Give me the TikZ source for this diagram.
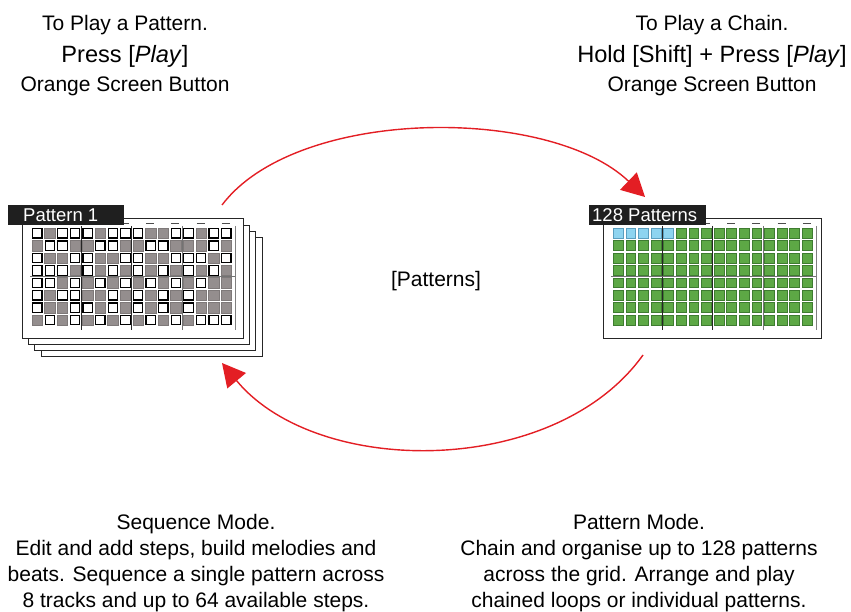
\documentclass[tikz,border=0pt]{standalone}
\usepackage{fontspec}
\setmainfont{Liberation Sans}
\usetikzlibrary{arrows.meta}
\definecolor{arrred}{HTML}{E31E24}
\definecolor{cellgray}{HTML}{948E8E}
\definecolor{cellgreen}{HTML}{5DA845}
\definecolor{greenedge}{HTML}{3E7C30}
\definecolor{cellblue}{HTML}{8ED4F0}
\definecolor{blueedge}{HTML}{5A9EBF}
\begin{document}
\begin{tikzpicture}[x=1pt,y=-1pt,
  txt/.style={font=\fontsize{21}{25}\selectfont, inner sep=0pt, anchor=base},
  txtbig/.style={font=\fontsize{23.6}{28}\selectfont, inner sep=0pt, anchor=base},
  sheet/.style={fill=white, draw=black!85, line width=1pt},
  whitecell/.style={fill=white, draw=black, line width=1.2pt},
  graycell/.style={fill=cellgray, draw=cellgray!85!black, line width=0.4pt},
  greencell/.style={fill=cellgreen, draw=greenedge, line width=0.7pt},
  bluecell/.style={fill=cellblue, draw=blueedge, line width=0.7pt},
  sepdark/.style={draw=black!85, line width=1.2pt},
  seplight/.style={draw=black!55, line width=1.2pt},
  tickmark/.style={draw=black!70, line width=1pt},
  tagbox/.style={fill=black!88},
  tagtext/.style={text=white, font=\fontsize{18.5}{20}\selectfont, inner sep=0pt, anchor=base west},
  cyc/.style={draw=arrred, line width=1.4pt, -{Triangle[length=23pt,width=24pt]}}
]
\useasboundingbox (0,0) rectangle (851,612);

% ---------- left: stack of pattern sheets ----------
\foreach \k in {3,2,1}
  \draw[sheet] ({22+6.4*\k},{219+6.2*\k}) rectangle ({243+6.4*\k},{338+6.2*\k});
\draw[sheet] (22,219) rectangle (243,338);
\foreach \i in {1,3,...,15}
  \draw[tickmark] ({32+12.6*\i+0.8},223.5) -- ++(8,0);
\foreach \i in {0,...,15}
  \foreach \j in {0,...,7}
    \path[whitecell] ({32.6+12.6*\i},{228.6+12.4*\j}) rectangle ++(9.4,9.4);
\foreach \i/\j in {1/0,5/0,9/0,10/0,13/0,
                   0/1,3/1,4/1,7/1,8/1,11/1,12/1,13/1,15/1,
                   1/2,2/2,5/2,6/2,9/2,10/2,14/2,
                   3/3,5/3,7/3,9/3,11/3,13/3,15/3,
                   2/4,4/4,6/4,8/4,10/4,12/4,14/4,15/4,
                   1/5,4/5,5/5,7/5,9/5,11/5,13/5,14/5,15/5,
                   1/6,2/6,5/6,7/6,9/6,11/6,13/6,14/6,15/6,
                   0/7,2/7,4/7,6/7,8/7,10/7,12/7}
  \path[graycell] ({32+12.6*\i},{228+12.4*\j}) rectangle ++(10.4,10.4);
\draw[sepdark] (81.3,226) -- (81.3,330);
\draw[sepdark] (131.7,226) -- (131.7,330);
\draw[seplight] (182.1,226) -- (182.1,330);
\draw[seplight] (30,276.6) -- (236,276.6);
\draw[black!50, line width=0.8pt] (235.6,226) -- (235.6,330);
\fill[tagbox] (8,205) rectangle (124,225);
\node[tagtext] (tagL) at (23,222) {Pattern 1};

% ---------- right: chain sheet ----------
\draw[sheet] (603,219) rectangle (821,338);
\foreach \i in {1,3,...,15}
  \draw[tickmark] ({613+12.6*\i+0.8},223.5) -- ++(8,0);
\foreach \i in {0,...,15}
  \foreach \j in {0,...,7}
    \path[greencell] ({613.3+12.6*\i},{228.3+12.4*\j}) rectangle ++(9.8,9.8);
\foreach \i in {0,...,4}
  \path[bluecell] ({613.3+12.6*\i},228.3) rectangle ++(9.8,9.8);
\draw[sepdark] (662.3,226) -- (662.3,330);
\draw[sepdark] (712.7,226) -- (712.7,330);
\draw[seplight] (763.1,226) -- (763.1,330);
\draw[seplight] (611,276.6) -- (817,276.6);
\draw[black!50, line width=0.8pt] (816.6,226) -- (816.6,330);
\fill[tagbox] (589,205) rectangle (706,225);
\node[tagtext] (tagR) at (592,222) {128 Patterns};

% ---------- cycle arrows ----------
\coordinate (u1) at (222,205);
\coordinate (u2) at (645,197);
\coordinate (l1) at (643,355);
\coordinate (l2) at (222,363);
\draw[cyc] (u1) .. controls (297,106) and (550,106) .. (u2);
\draw[cyc] (l1) .. controls (555,478) and (317,478) .. (l2);

% ---------- texts ----------
\node[txt] (tl1) at (125,31) {To Play a Pattern.};
\node[txtbig] (tl2) at (125,63) {Press [\textit{Play}]};
\node[txt] (tl3) at (125,92) {Orange Screen Button};

\node[txt] (tr1) at (712,31) {To Play a Chain.};
\node[txtbig] (tr2) at (712,63) {Hold [Shift] + Press [\textit{Play}]};
\node[txt] (tr3) at (712,92) {Orange Screen Button};

\node[txt] (mid) at (436,287) {[Patterns]};

\node[txt] (bl1) at (196,529) {Sequence Mode.};
\node[txt] (bl2) at (196,555) {Edit and add steps, build melodies and};
\node[txt] (bl3) at (196,581) {beats. Sequence a single pattern across};
\node[txt] (bl4) at (196,607) {8 tracks and up to 64 available steps.};

\node[txt] (br1) at (639,529) {Pattern Mode.};
\node[txt] (br2) at (639,555) {Chain and organise up to 128 patterns};
\node[txt] (br3) at (639,581) {across the grid. Arrange and play};
\node[txt] (br4) at (639,607) {chained loops or individual patterns.};
\end{tikzpicture}
\end{document}
